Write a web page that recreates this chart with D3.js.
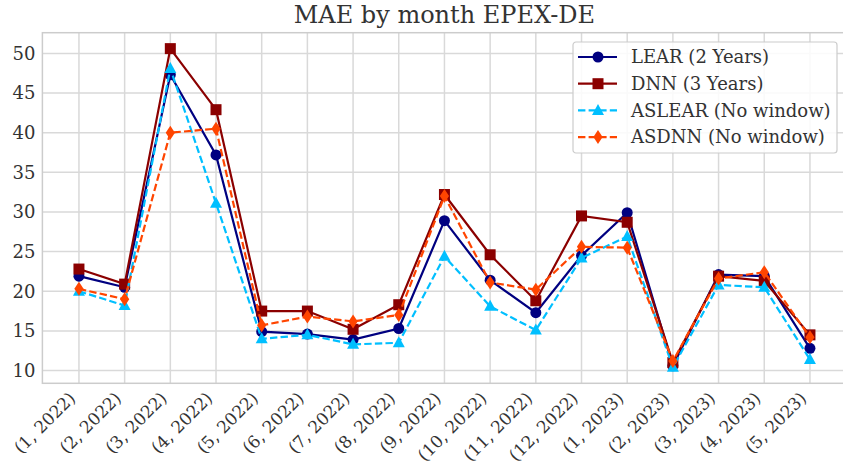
<!DOCTYPE html>
<html>
<head>
<meta charset="utf-8">
<script src="https://cdn.jsdelivr.net/npm/d3@7"></script>
<style>
  html, body { margin: 0; padding: 0; background: #fff; overflow: hidden; }
  svg { display: block; font-family: "DejaVu Serif", serif; }
</style>
</head>
<body>
<svg id="chart" width="843" height="469"></svg>
<script>
const title = "MAE by month EPEX-DE";
const categories = ["(1, 2022)", "(2, 2022)", "(3, 2022)", "(4, 2022)", "(5, 2022)", "(6, 2022)",
  "(7, 2022)", "(8, 2022)", "(9, 2022)", "(10, 2022)", "(11, 2022)", "(12, 2022)",
  "(1, 2023)", "(2, 2023)", "(3, 2023)", "(4, 2023)", "(5, 2023)"];
const yTicks = [10, 15, 20, 25, 30, 35, 40, 45, 50];
const seriesNames = ["LEAR (2 Years)", "DNN (3 Years)", "ASLEAR (No window)", "ASDNN (No window)"];
const learValues   = [21.9, 20.5, 47.3, 37.2, 14.9, 14.6, 13.9, 15.3, 28.9, 21.4, 17.3, 24.5, 29.9, 10.6, 22.1, 21.9, 12.8];
const dnnValues    = [22.8, 20.9, 50.6, 42.9, 17.5, 17.5, 15.2, 18.3, 32.2, 24.6, 18.8, 29.5, 28.7, 11.0, 21.9, 21.3, 14.5];
const aslearValues = [20.0, 18.2, 48.1, 31.1, 14.0, 14.5, 13.3, 13.5, 24.4, 18.1, 15.1, 24.2, 26.9, 10.4, 20.8, 20.5, 11.4];
const asdnnValues  = [20.3, 19.0, 40.0, 40.5, 15.7, 16.8, 16.2, 17.0, 32.0, 21.1, 20.2, 25.6, 25.5, 11.2, 21.6, 22.4, 14.2];

const series = [
  {name: seriesNames[0], values: learValues,   color: "#000080", dash: null,      marker: "circle"},
  {name: seriesNames[1], values: dnnValues,    color: "#8B0000", dash: null,      marker: "square"},
  {name: seriesNames[2], values: aslearValues, color: "#00BFFF", dash: "7.4,3.2", marker: "triangle"},
  {name: seriesNames[3], values: asdnnValues,  color: "#FF4500", dash: "7.4,3.2", marker: "diamond"}
];

const svg = d3.select("#chart");
const plot = {left: 42.4, right: 846.5, top: 32.7, bottom: 383.3};
const textColor = "#333333";
const gridColor = "#d9d9d9";

const n = categories.length;
const xMargin = (n - 1) * 0.05;
const x = d3.scaleLinear().domain([-xMargin, n - 1 + xMargin]).range([plot.left, plot.right]);
const allVals = series.flatMap(s => s.values);
const yMin = d3.min(allVals), yMax = d3.max(allVals);
const yPad = (yMax - yMin) * 0.05;
const y = d3.scaleLinear().domain([yMin - yPad, yMax + yPad]).range([plot.bottom, plot.top]);

// grid
const g = svg.append("g");
g.append("g").selectAll("line").data(yTicks).join("line")
  .attr("x1", plot.left).attr("x2", plot.right)
  .attr("y1", d => y(d)).attr("y2", d => y(d))
  .attr("stroke", gridColor).attr("stroke-width", 1.5);
g.append("g").selectAll("line").data(d3.range(n)).join("line")
  .attr("y1", plot.top).attr("y2", plot.bottom)
  .attr("x1", d => x(d)).attr("x2", d => x(d))
  .attr("stroke", gridColor).attr("stroke-width", 1.5);
// frame
g.append("rect").attr("x", plot.left).attr("y", plot.top)
  .attr("width", plot.right - plot.left).attr("height", plot.bottom - plot.top)
  .attr("fill", "none").attr("stroke", "#cccccc").attr("stroke-width", 1.5);

// y axis labels
const yAxis = d3.axisLeft(y).tickValues(yTicks).tickSize(0).tickPadding(7);
const ya = svg.append("g").attr("transform", `translate(${plot.left},0)`).call(yAxis);
ya.select(".domain").remove();
ya.attr("font-family", "DejaVu Serif");
ya.selectAll("text").attr("font-size", 18).attr("fill", textColor);

// x axis labels
const xAxis = d3.axisBottom(x).tickValues(d3.range(n)).tickFormat(i => categories[i]).tickSize(0);
const xa = svg.append("g").attr("transform", `translate(0,${plot.bottom})`).call(xAxis);
xa.select(".domain").remove();
xa.attr("font-family", "DejaVu Serif");
xa.selectAll("text")
  .attr("font-size", 17).attr("fill", textColor)
  .attr("text-anchor", "end").attr("dy", null).attr("y", 0).attr("x", 0)
  .attr("transform", "translate(-3,16) rotate(-45)");

// title
svg.append("text").attr("x", (plot.left + plot.right) / 2).attr("y", 23)
  .attr("text-anchor", "middle").attr("font-size", 24).attr("fill", textColor)
  .text(title);

// markers
function drawMarker(sel, type, color) {
  if (type === "circle") {
    sel.append("circle").attr("r", 5.5).attr("fill", color);
  } else if (type === "square") {
    sel.append("rect").attr("x", -5.5).attr("y", -5.5).attr("width", 11).attr("height", 11).attr("fill", color);
  } else if (type === "triangle") {
    sel.append("path").attr("d", "M0,-6.5 L6,4.5 L-6,4.5 Z").attr("fill", color);
  } else if (type === "diamond") {
    sel.append("path").attr("d", "M0,-7 L4.6,0 L0,7 L-4.6,0 Z").attr("fill", color);
  }
}

const line = d3.line().x((d, i) => x(i)).y(d => y(d));

series.forEach(s => {
  const sg = svg.append("g");
  sg.append("path").datum(s.values).attr("d", line)
    .attr("fill", "none").attr("stroke", s.color).attr("stroke-width", 2.2)
    .attr("stroke-dasharray", s.dash);
  sg.selectAll("g.m").data(s.values).join("g").attr("class", "m")
    .attr("transform", (d, i) => `translate(${x(i)},${y(d)})`)
    .each(function() { drawMarker(d3.select(this), s.marker, s.color); });
});

// legend
const lg = svg.append("g").attr("transform", "translate(573,42)");
lg.append("rect").attr("width", 264).attr("height", 111).attr("rx", 3)
  .attr("fill", "#ffffff").attr("fill-opacity", 0.85)
  .attr("stroke", "#cccccc").attr("stroke-width", 1.2);
series.forEach((s, i) => {
  const row = lg.append("g").attr("transform", `translate(0,${15 + i * 26.7})`);
  row.append("line").attr("x1", 5).attr("x2", 44).attr("y1", 0).attr("y2", 0)
    .attr("stroke", s.color).attr("stroke-width", 2.2).attr("stroke-dasharray", s.dash);
  const mg = row.append("g").attr("transform", "translate(25,0)");
  drawMarker(mg, s.marker, s.color);
  row.append("text").attr("x", 58).attr("y", 0).attr("dy", "0.35em")
    .attr("font-size", 18).attr("fill", textColor).text(s.name);
});
</script>
</body>
</html>
